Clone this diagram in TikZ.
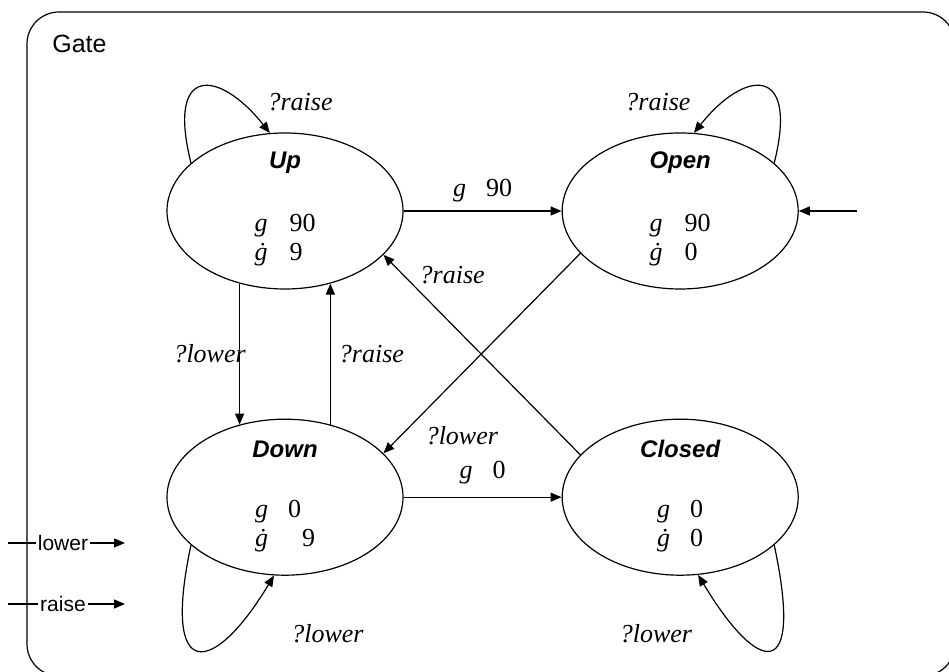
\documentclass[tikz,border=0pt]{standalone}
\usepackage{fontspec}
\setmainfont{Liberation Serif}
\setsansfont{Liberation Sans}
\usetikzlibrary{shapes.geometric, arrows.meta, positioning}

\begin{document}
\begin{tikzpicture}[x=0.5pt, y=-0.5pt,
    node distance=64.5pt and 79pt,
    loc/.style={draw, ellipse, line width=0.6pt, minimum width=118pt, minimum height=78pt, inner sep=0pt},
    locname/.style={font=\sffamily\bfseries\itshape\fontsize{12}{14}\selectfont},
    inv/.style={align=left, font=\fontsize{13}{14.5}\selectfont},
    act/.style={font=\itshape\fontsize{13}{15}\selectfont, inner sep=2pt},
    grd/.style={font=\fontsize{13}{15}\selectfont, inner sep=2pt},
    sig/.style={font=\sffamily\fontsize{10.5}{12}\selectfont, fill=white, inner sep=1pt},
    arrow/.style={draw, line width=0.6pt, ->, >={Triangle[length=5.5pt, width=4.5pt]}}
]
    \useasboundingbox (0,0) rectangle (949,672);
    % Frame
    \begin{scope}
        \clip (0,0) rectangle (949,672);
        \draw[line width=0.6pt, rounded corners=16pt] (27,12) rectangle (955,676);
    \end{scope}
    \node[font=\sffamily\fontsize{12.5}{14}\selectfont, anchor=base west, inner sep=0pt] (gate) at (52,53) {Gate};

    % Locations
    \node[loc] (up) at (285,211) {};
    \node[loc, right=of up] (open) {};
    \node[loc, below=of up] (down) {};
    \node[loc, right=of down] (closed) {};

    \node[locname] (upName) at ([yshift=24pt]up.center) {Up};
    \node[locname] (openName) at ([yshift=24pt]open.center) {Open};
    \node[locname] (downName) at ([yshift=24pt]down.center) {Down};
    \node[locname] (closedName) at ([yshift=24pt]closed.center) {Closed};

    \node[inv] (upInv) at ([yshift=-14.5pt]up.center) {\textit{g}\hspace{11pt}90\\\textit{\.g}\hspace{11pt}9};
    \node[inv] (openInv) at ([yshift=-14.5pt]open.center) {\textit{g}\hspace{11pt}90\\\textit{\.g}\hspace{11pt}0};
    \node[inv] (downInv) at ([yshift=-14.5pt]down.center) {\textit{g}\hspace{10pt}0\\\textit{\.g}\hspace{17pt}9};
    \node[inv] (closedInv) at ([yshift=-14.5pt]closed.center) {\textit{g}\hspace{10pt}0\\\textit{\.g}\hspace{10pt}0};

    % Transitions
    \draw[arrow] (up) -- node[grd, above=2pt] {\textit{g}\hspace{10pt}90} (open);
    \draw[arrow] (down) -- node[grd, above=4.5pt] {\textit{g}\hspace{10pt}0} (closed);
    \draw[arrow] (up.238) -- node[act, xshift=-15pt] {?lower} (down.122);
    \draw[arrow] (down.58) -- node[act, right=2pt] {?raise} (up.302);
    \draw[arrow] (open.203) -- node[act, pos=0.91, right=10pt] {?lower} (down.24);
    \draw[arrow] (closed.157) -- node[act, pos=0.9, right=6pt] {?raise} (up.336);

    % Self loops
    \draw[arrow] (up.153) .. controls +(-25,-100) and +(-50,-63) .. node[act, pos=0.8, xshift=30pt] {?raise} (up.101);
    \draw[arrow] (open.27) .. controls +(25,-100) and +(50,-63) .. node[act, pos=0.8, xshift=-33pt] {?raise} (open.80);
    \draw[arrow] (down.207) .. controls +(-30,140) and +(-60,100) .. node[act, pos=0.8, xshift=44pt, yshift=-5pt] {?lower} (down.262);
    \draw[arrow] (closed.333) .. controls +(30,140) and +(60,100) .. node[act, pos=0.8, xshift=-38pt, yshift=-5pt] {?lower} (closed.283);

    % Initial and channels
    \coordinate (openIn) at (857,211);
    \draw[arrow] (openIn) -- (open.east);
    \coordinate (lowerL) at (8,543);
    \coordinate (lowerR) at (125,543);
    \draw[arrow] (lowerL) -- node[sig, pos=0.47] {lower} (lowerR);
    \coordinate (raiseL) at (8,604);
    \coordinate (raiseR) at (125,604);
    \draw[arrow] (raiseL) -- node[sig, pos=0.47] {raise} (raiseR);
\end{tikzpicture}
\end{document}
